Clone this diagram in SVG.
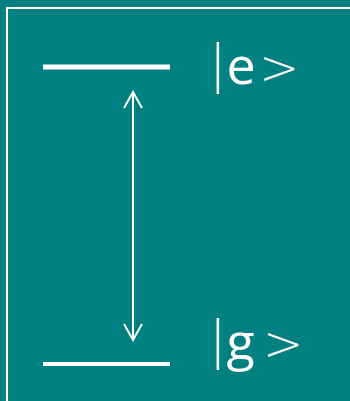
<svg xmlns="http://www.w3.org/2000/svg" width="350" height="401" viewBox="0 0 350 401">
<style>
.lvl{stroke:#ffffff;fill:none}
.lbl{font-family:"Open Sans","Noto Sans",sans-serif;font-size:52px;fill:#ffffff}
.bar{font-family:"DejaVu Sans",sans-serif;font-size:52px;font-weight:200}
.gt{font-family:"DejaVu Sans",sans-serif;font-size:48px;font-weight:200}
.conn{stroke:#ffffff;stroke-width:2;fill:none}
</style>
<rect x="0" y="0" width="350" height="401" fill="#008080"/>
<rect x="7" y="8" width="420" height="450" fill="none" stroke="#ffffff" stroke-width="2"/>
<g id="excited">
<line class="lvl" x1="43" y1="67" x2="170" y2="67" stroke-width="5"/>
<text class="lbl" x="209" y="84"><tspan class="bar" dy="-3">|</tspan><tspan dy="3">e</tspan><tspan class="gt" x="259">&gt;</tspan></text>
</g>
<g id="ground">
<line class="lvl" x1="43" y1="364" x2="170" y2="364" stroke-width="4"/>
<text class="lbl" x="209" y="360"><tspan class="bar" dy="-3">|</tspan><tspan dy="3">g</tspan><tspan class="gt" x="263">&gt;</tspan></text>
</g>
<g id="connectors">
<line class="conn" x1="133" y1="92" x2="133" y2="340"/>
<polyline class="conn" points="124,108 133,92 142,108"/>
<polyline class="conn" points="124,324 133,340 142,324"/>
</g>
</svg>
